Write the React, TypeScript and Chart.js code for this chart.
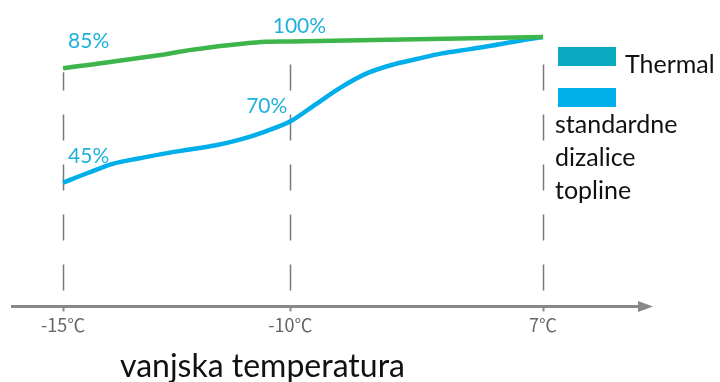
import React, { useEffect, useRef } from 'react';
import { Chart, registerables } from 'chart.js';

Chart.register(...registerables);

// sample positions along the temperature axis (schematic, not to scale)
const positions = [0, 1, 2, 3, 4, 5, 6, 7, 8, 9, 10, 11, 12, 13, 14, 15, 16, 17, 18, 19];
const tickPositions = [0, 9, 19];
const tickLabels = ['-15℃', '-10℃', '7℃'];

const seriesLabels = ['Thermal', 'standardne dizalice topline'];
const thermalValues = [88.4, 89.6, 90.9, 92.2, 93.5, 95.1, 96.4, 97.4, 98.2, 98.3, null, null, null, null, null, null, null, null, null, 100];
const standardValues = [45.9, 49.6, 53.0, 54.9, 56.7, 58.2, 59.7, 61.9, 64.9, 68.7, 75.0, 81.3, 86.4, 89.6, 91.8, 93.9, 95.3, 96.8, 98.5, 100];

const pointLabels = [
  { dataset: 0, index: 0, text: '85%' },
  { dataset: 0, index: 9, text: '100%' },
  { dataset: 1, index: 0, text: '45%' },
  { dataset: 1, index: 9, text: '70%' },
];
const axisTitle = 'vanjska temperatura';

const lineColors = ['#3db54a', '#00aeea'];
const legendColors = ['#0ba8c1', '#00aeea'];
const labelColor = '#1fb1dc';

const labelStyles = [
  { dx: 5, dy: -20, align: 'left' },
  { dx: 9, dy: -9, align: 'center' },
  { dx: 5, dy: -20, align: 'left' },
  { dx: -3, dy: -8, align: 'right' },
];

const decor = {
  id: 'decor',
  beforeDatasetsDraw(chart: any) {
    const { ctx } = chart;
    const x = chart.scales.x;
    const meta0 = chart.getDatasetMeta(0);
    ctx.save();
    ctx.strokeStyle = '#7a7a7a';
    ctx.lineWidth = 1.5;
    ctx.setLineDash([26, 24]);
    tickPositions.forEach((p) => {
      const px = Math.round(x.getPixelForValue(p)) + 0.5;
      const idx = positions.indexOf(p);
      const pt = meta0.data[idx];
      const top = pt.y + 4;
      const bottom = x.top - 16;
      ctx.beginPath();
      ctx.moveTo(px, bottom);
      ctx.lineTo(px, top);
      ctx.stroke();
    });
    ctx.restore();
  },
  afterDatasetsDraw(chart: any) {
    const { ctx } = chart;
    ctx.save();
    ctx.font = '400 21px Lato, "Open Sans", sans-serif';
    ctx.fillStyle = labelColor;
    ctx.textBaseline = 'alphabetic';
    pointLabels.forEach((l, i) => {
      const pt = chart.getDatasetMeta(l.dataset).data[l.index];
      const s = labelStyles[i];
      ctx.textAlign = s.align;
      ctx.fillText(l.text, pt.x + s.dx, pt.y + s.dy);
    });
    ctx.restore();
  },
  afterDraw(chart: any) {
    const { ctx, chartArea } = chart;
    const x = chart.scales.x;
    ctx.save();
    // arrow head
    const ay = x.top;
    ctx.fillStyle = '#888888';
    ctx.beginPath();
    ctx.moveTo(chartArea.right - 1, ay - 5.5);
    ctx.lineTo(chartArea.right + 14, ay);
    ctx.lineTo(chartArea.right - 1, ay + 5.5);
    ctx.closePath();
    ctx.fill();

    // legend
    ctx.font = '25px Lato, "Open Sans", sans-serif';
    ctx.textBaseline = 'alphabetic';
    ctx.textAlign = 'left';
    ctx.fillStyle = legendColors[0];
    ctx.fillRect(558, 47, 58, 19);
    ctx.fillStyle = '#111111';
    ctx.fillText(seriesLabels[0], 625, 73);

    ctx.fillStyle = legendColors[1];
    ctx.fillRect(558, 88, 58, 19);
    ctx.fillStyle = '#111111';
    const words = seriesLabels[1].split(' ');
    const lines: string[] = [];
    let cur = '';
    words.forEach((w) => {
      const t = cur ? cur + ' ' + w : w;
      if (ctx.measureText(t).width > 160 && cur) {
        lines.push(cur);
        cur = w;
      } else cur = t;
    });
    if (cur) lines.push(cur);
    lines.forEach((ln, i) => ctx.fillText(ln, 555, 133 + i * 33));

    // axis title
    ctx.font = '32px Lato, "Open Sans", sans-serif';
    ctx.fillStyle = '#111111';
    ctx.fillText(axisTitle, 120, 377);
    ctx.restore();
  },
};

export default function App() {
  const ref = useRef<HTMLCanvasElement>(null);
  useEffect(() => {
    if (!ref.current) return;
    const chart = new Chart(ref.current, {
      type: 'line',
      data: {
        datasets: [
          {
            label: seriesLabels[0],
            data: positions.map((p, i) => ({ x: p, y: thermalValues[i] })),
            borderColor: lineColors[0],
            borderWidth: 4.5,
            pointRadius: 0,
            spanGaps: true,
            tension: 0.2,
          },
          {
            label: seriesLabels[1],
            data: positions.map((p, i) => ({ x: p, y: standardValues[i] })),
            borderColor: lineColors[1],
            borderWidth: 4.5,
            pointRadius: 0,
            tension: 0.3,
            cubicInterpolationMode: 'monotone',
          },
        ],
      } as any,
      options: {
        animation: false,
        responsive: false,
        layout: { padding: { left: 12, right: 81, top: 10, bottom: 43 } },
        plugins: { legend: { display: false }, tooltip: { enabled: false }, title: { display: false } },
        scales: {
          x: {
            type: 'linear',
            min: -2.02,
            max: 22.8,
            afterBuildTicks: (axis: any) => {
              axis.ticks = tickPositions.map((v) => ({ value: v }));
            },
            ticks: {
              autoSkip: false,
              maxRotation: 0,
              color: '#666666',
              padding: 3,
              font: { family: '"Noto Sans CJK SC", "DejaVu Sans"', size: 18 },
              callback: (v: any) => {
                const i = tickPositions.indexOf(Number(v));
                return i >= 0 ? tickLabels[i] : '';
              },
            },
            grid: {
              drawOnChartArea: false,
              drawTicks: true,
              tickLength: 5,
              tickWidth: 2,
              tickColor: '#888888',
            },
            border: { display: true, color: '#888888', width: 3 },
          },
          y: { display: false, min: 0, max: 110 },
        },
      } as any,
      plugins: [decor],
    });
    return () => chart.destroy();
  }, []);
  return (
    <div style={{ position: 'fixed', left: 0, top: 0, width: 720, height: 382, overflow: 'hidden', background: '#fff' }}>
      <canvas ref={ref} width={720} height={382} style={{ display: 'block' }} />
    </div>
  );
}
